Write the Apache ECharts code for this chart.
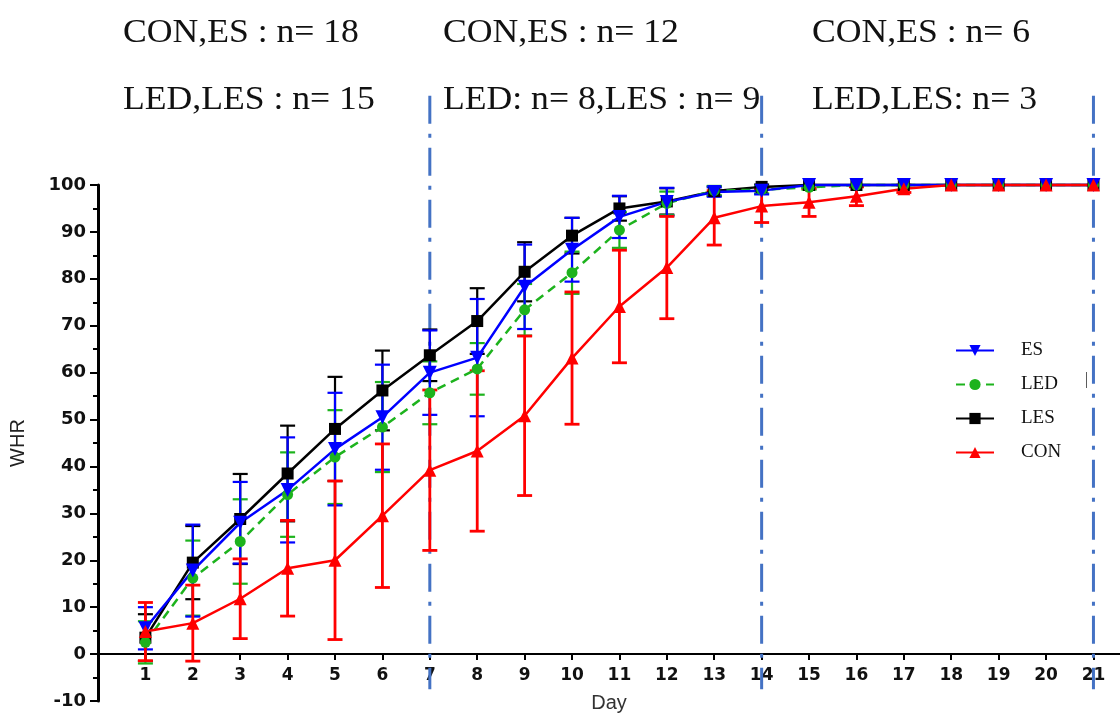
<!DOCTYPE html>
<html>
<head>
<meta charset="utf-8">
<script src="https://cdn.jsdelivr.net/npm/echarts@6/dist/echarts.min.js"></script>
<style>html,body{margin:0;padding:0;background:#fff}#c{width:1120px;height:713px}</style>
</head>
<body>
<div id="c"></div>
<script>
const days = [1,2,3,4,5,6,7,8,9,10,11,12,13,14,15,16,17,18,19,20,21];
const yTicks = [-10,0,10,20,30,40,50,60,70,80,90,100];
const ES     = [5.5,17.8,28,35,43.7,50.5,60,63.2,78.3,86.2,93.2,96.4,98.5,98.8,100,100,100,100,100,100,100];
const ES_sd  = [4.5,9.8,8.7,11.2,12,11.2,9,12.5,9,6.8,4.5,3,1,0.8,0,0,0,0,0,0,0];
const LED    = [2.5,16.2,24,34,42,48.4,55.7,60.8,73.4,81.3,90.4,96.1,98.8,99,99.5,100,100,100,100,100,100];
const LED_sd = [4.5,8,9,9,10,9.6,6.7,5.5,5.5,4.5,3.8,2.5,1,0.8,0.5,0,0,0,0,0,0];
const LES    = [3.5,19.5,28.8,38.5,48,56.2,63.7,71,81.5,89.2,95,96.5,98.7,99.6,100,100,100,100,100,100,100];
const LES_sd = [5,7.8,9.6,10.2,11.1,8.5,5.5,7,6.3,3.8,2.6,2.8,1,0.5,0,0,0,0,0,0,0];
const CON    = [4.8,6.6,11.8,18.3,20,29.5,39.2,43.3,50.8,63.1,74.1,82.4,93,95.5,96.3,97.6,99.2,100,100,100,100];
const CON_sd = [6.2,8.1,8.5,10.2,16.9,15.3,17.1,17.1,17,14.1,12,10.9,5.8,3.5,3,2,0.8,0,0,0,0];
const dividerDays = [7,14,21];
const dividerSpan = [-7.5,119];
const topTexts = [
  ["CON,ES : n= 18","LED,LES : n= 15"],
  ["CON,ES : n= 12","LED: n= 8,LES : n= 9"],
  ["CON,ES : n= 6","LED,LES: n= 3"]
];

const colors = {ES:'#0000FF', LED:'#1DB31D', LES:'#000000', CON:'#FF0000'};

function errData(mean, sd){ return days.map((d,i)=>[d, mean[i]-sd[i], mean[i]+sd[i]]); }
function errSeries(mean, sd, color, w){
  return {
    type:'custom', silent:true, clip:false, z:2,
    data: errData(mean, sd),
    renderItem: function(params, api){
      const x = api.value(0), lo = api.value(1), hi = api.value(2);
      if (hi - lo < 0.01) return null;
      const p1 = api.coord([x, lo]), p2 = api.coord([x, hi]);
      const hw = 7.5;
      const st = {stroke:color, lineWidth:w};
      return {type:'group', children:[
        {type:'line', shape:{x1:p1[0],y1:p1[1],x2:p2[0],y2:p2[1]}, style:st},
        {type:'line', shape:{x1:p1[0]-hw,y1:p1[1],x2:p1[0]+hw,y2:p1[1]}, style:st},
        {type:'line', shape:{x1:p2[0]-hw,y1:p2[1],x2:p2[0]+hw,y2:p2[1]}, style:st}
      ]};
    }
  };
}
function lineSeries(name, data, color, symbol, size, extra){
  return Object.assign({
    name, type:'line', data: days.map((d,i)=>[d, data[i]]),
    symbol, symbolSize:size, showSymbol:true, z:3,
    lineStyle:{color, width:2.5}, itemStyle:{color},
    clip:false, animation:false
  }, extra||{});
}

const graphics = [];
const tx = [123, 443, 812];
topTexts.forEach((pair, k)=>{
  pair.forEach((t, j)=>{
    graphics.push({type:'text', x:tx[k], y:(j===0? 17 : 84), scaleX:1.08,
      style:{text:t, font:'33px "Liberation Serif", "Times New Roman", serif', fill:'#111'}});
  });
});
graphics.push({type:'text', x:1085, y:372, style:{text:'|', font:'16px "Liberation Serif", serif', fill:'#333'}});

const chart = echarts.init(document.getElementById('c'));
chart.setOption({
  animation:false,
  backgroundColor:'#fff',
  graphic: graphics,
  grid:{left:98, right:0, top:185, bottom:12, containLabel:false, outerBoundsMode:'none'},
  legend:{
    orient:'vertical', left:950, top:336, itemWidth:38, itemHeight:14, itemGap:15,
    data:['ES','LED','LES','CON'],
    textStyle:{fontFamily:'"Liberation Serif", serif', fontSize:19, color:'#111', padding:[0,0,0,22]}
  },
  xAxis:{
    type:'value', min:0, max:21.56,
    name:'Day', nameLocation:'middle', nameGap:-8,
    nameTextStyle:{fontFamily:'"Liberation Sans", Arial, sans-serif', fontSize:20, color:'#333'},
    axisLine:{onZero:true, lineStyle:{color:'#000', width:2}},
    axisTick:{show:true, length:6, inside:false, customValues:days, lineStyle:{color:'#000', width:2}},
    axisLabel:{customValues:days, margin:-34, fontFamily:'"DejaVu Sans", sans-serif', fontWeight:'bold', fontSize:17, color:'#111'},
    splitLine:{show:false}
  },
  yAxis:{
    type:'value', min:-10, max:100, interval:10,
    name:'WHR', nameLocation:'middle', nameGap:70, nameRotate:90,
    nameTextStyle:{fontFamily:'"Liberation Sans", Arial, sans-serif', fontSize:20, color:'#222'},
    axisLine:{show:true, onZero:false, lineStyle:{color:'#000', width:3}},
    axisTick:{show:true, length:8, lineStyle:{color:'#000', width:2}},
    minorTick:{show:true, splitNumber:2, length:5, lineStyle:{color:'#000', width:2}},
    axisLabel:{margin:12, fontFamily:'"DejaVu Sans", sans-serif', fontWeight:'bold', fontSize:18, color:'#111',
      customValues: yTicks},
    splitLine:{show:false}
  },
  series:[
    {
      type:'custom', silent:true, clip:false, z:1,
      data: dividerDays.map(d=>[d, dividerSpan[0], dividerSpan[1]]),
      renderItem: function(params, api){
        const p1 = api.coord([api.value(0), api.value(1)]);
        const p2 = api.coord([api.value(0), api.value(2)]);
        return {type:'line', shape:{x1:p1[0],y1:p2[1],x2:p1[0],y2:p1[1]},
          style:{stroke:'#4472C4', lineWidth:3, lineDash:[28,10,4,10]}};
      }
    },
    errSeries(LES, LES_sd, colors.LES, 2.2),
    lineSeries('LES', LES, colors.LES, 'rect', 12),
    errSeries(LED, LED_sd, colors.LED, 2.2),
    lineSeries('LED', LED, colors.LED, 'circle', 11, {lineStyle:{color:colors.LED, width:2.5, type:[9,6]}}),
    errSeries(ES, ES_sd, colors.ES, 2.2),
    lineSeries('ES', ES, colors.ES, 'triangle', 14, {symbolRotate:180}),
    errSeries(CON, CON_sd, colors.CON, 2.8),
    lineSeries('CON', CON, colors.CON, 'triangle', 13)
  ]
});
</script>
</body>
</html>
